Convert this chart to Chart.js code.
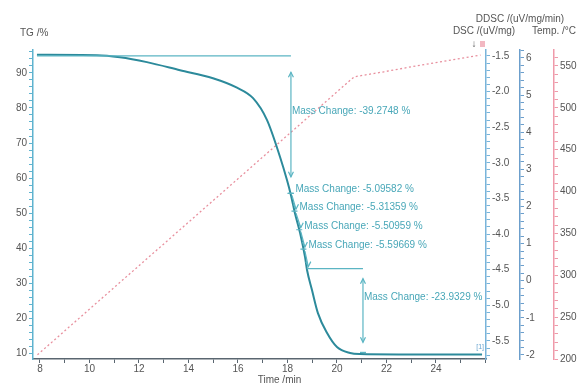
<!DOCTYPE html>
<html>
<head>
<meta charset="utf-8">
<script src="https://cdn.jsdelivr.net/npm/chart.js@4/dist/chart.umd.min.js"></script>
<style>
  html, body { margin: 0; padding: 0; background: #fff; }
  #wrap { width: 583px; height: 385px; }
</style>
</head>
<body>
<div id="wrap"><canvas id="tgChart" width="583" height="385"></canvas></div>
<script>
// TG curve: time (min) / mass (%)
const tgTime = [7.88, 10.3, 11.23, 12.32, 13.66, 14.99, 15.96, 16.61, 17.17, 17.7, 17.98, 18.14, 18.3, 18.51, 18.71, 18.79, 18.99, 19.23, 19.6, 20.0, 20.53, 20.93, 22.5, 25.86];
const tgMass = [95.2, 95.1, 94.5, 93.1, 90.8, 88.5, 85.8, 82.8, 76.6, 66.0, 59.4, 55.1, 50.0, 44.3, 37.4, 33.7, 28.0, 21.4, 15.7, 11.7, 10.0, 9.7, 9.6, 9.6];

// temperature programme (dotted)
const tempTime = [7.9, 20.5, 20.7, 21.9, 23.2, 24.6, 25.8];
const tempVal  = [205, 532, 537, 543, 550, 557, 563];

// mass change evaluation
const refLevel = 94.9;
const massChanges = [-39.2748, -5.09582, -5.31359, -5.50959, -5.59669, -23.9329];
const arrowTimes = [18.14, 21.05];   // big arrows: first and last step

const tgCol = '#2c8a9b';
const annCol = '#5bb5c3';
const txtCol = '#48a7b8';
const tickCol = '#555';
const font = { family: '"Liberation Sans", Arial, sans-serif', size: 10 };

const near = (v, m) => Math.abs(v / m - Math.round(v / m)) < 1e-6;

function timeAt(level) {
  for (let i = 1; i < tgMass.length; i++) {
    if (tgMass[i] <= level) {
      const f = (tgMass[i - 1] - level) / (tgMass[i - 1] - tgMass[i]);
      return tgTime[i - 1] + f * (tgTime[i] - tgTime[i - 1]);
    }
  }
  return tgTime[tgTime.length - 1];
}

function arrowHead(ctx, x, y, dir) {
  ctx.beginPath();
  ctx.moveTo(x - 2.5, y - dir * 5);
  ctx.lineTo(x, y);
  ctx.lineTo(x + 2.5, y - dir * 5);
  ctx.stroke();
}

const annot = {
  id: 'annot',
  afterDatasetsDraw(chart) {
    const { ctx, scales } = chart;
    const px = t => scales.x.getPixelForValue(t);
    const py = v => scales.y.getPixelForValue(v);
    const levels = [refLevel];
    massChanges.forEach(m => levels.push(levels[levels.length - 1] + m));
    ctx.save();
    ctx.strokeStyle = annCol;
    ctx.lineWidth = 1.2;
    ctx.fillStyle = txtCol;
    ctx.font = '10px "Liberation Sans", Arial, sans-serif';
    ctx.textBaseline = 'middle';

    function bigStep(t0, t1, top, bottom, frac, text) {
      const yTop = py(top), yBot = py(bottom), x1 = px(t1);
      ctx.beginPath();
      ctx.moveTo(px(t0), yTop); ctx.lineTo(x1, yTop);
      ctx.stroke();
      const ins = (yBot - yTop) * 0.12;
      ctx.beginPath();
      ctx.moveTo(x1, yTop + ins); ctx.lineTo(x1, yBot - ins);
      ctx.stroke();
      arrowHead(ctx, x1, yTop + ins, -1);
      arrowHead(ctx, x1, yBot - ins, 1);
      ctx.beginPath();
      ctx.moveTo(x1 - 3, yBot); ctx.lineTo(x1 + 3, yBot);
      ctx.stroke();
      ctx.fillText(text, x1 + 1, yTop + (yBot - yTop) * frac);
    }

    // first step from reference line
    bigStep(tgTime[0], arrowTimes[0], levels[0], levels[1], 0.4, 'Mass Change: ' + massChanges[0] + ' %');

    // small steps along the steep part
    for (let i = 1; i <= 4; i++) {
      const tA = timeAt(levels[i]), tB = timeAt(levels[i + 1]);
      const xA = px(tA), yA = py(levels[i]), xB = px(tB), yB = py(levels[i + 1]);
      ctx.beginPath();
      ctx.moveTo(xA - 3, yA); ctx.lineTo(xA + 3, yA);
      ctx.moveTo(xA + 1.5, yA + 2); ctx.lineTo(xB + 1.5, yB - 2);
      ctx.stroke();
      arrowHead(ctx, xB + 1.5, yB - 2, 1);
      ctx.fillText('Mass Change: ' + massChanges[i] + ' %', xA + 5, yA - 4);
    }

    // last step
    bigStep(timeAt(levels[5]), arrowTimes[1], levels[5], levels[6], 0.34, 'Mass Change: ' + massChanges[5] + ' %');

    // curve tag
    ctx.font = '7px "Liberation Sans", Arial, sans-serif';
    ctx.fillStyle = '#6aa6d0';
    ctx.textAlign = 'right';
    ctx.fillText('[1]', chart.chartArea.right - 2, py(levels[6]) - 5);
    ctx.restore();
  },
  afterDraw(chart) {
    const { ctx, scales, chartArea } = chart;
    ctx.save();
    ctx.fillStyle = tickCol;
    ctx.font = '10px "Liberation Sans", Arial, sans-serif';
    ctx.textBaseline = 'middle';
    ctx.textAlign = 'left';
    ctx.fillText('TG /%', 20, 33);
    ctx.textAlign = 'center';
    ctx.fillText('DDSC /(uV/mg/min)', scales.ddsc.left, 19);
    ctx.fillText('DSC /(uV/mg)', scales.dsc.left - 2, 31);
    ctx.fillText('Temp. /\u00B0C', scales.temp.left, 31);
    ctx.fillText('Time /min', (chartArea.left + chartArea.right) / 2 + 20, 380);
    ctx.fillText('\u2193', scales.dsc.left - 12, 44);
    ctx.fillStyle = '#f2b8c2';
    ctx.fillRect(scales.dsc.left - 6, 41, 5, 6);
    ctx.restore();
  }
};

function axis(pos, min, max, step, majorEvery, fmt, col, w) {
  return {
    type: 'linear', position: pos, min: min, max: max,
    ticks: {
      stepSize: step, autoSkip: false, includeBounds: false, color: tickCol, font: font, padding: 2,
      callback: v => near(v, majorEvery) ? fmt(v) : ''
    },
    grid: { drawOnChartArea: false, drawTicks: true, tickLength: 4, color: col },
    border: { display: true, color: col, width: 1.5 },
    afterFit: s => { s.width = w; }
  };
}

const ctx = document.getElementById('tgChart').getContext('2d');
new Chart(ctx, {
  type: 'line',
  data: {
    datasets: [
      {
        label: 'TG',
        data: tgTime.map((t, i) => ({ x: t, y: tgMass[i] })),
        yAxisID: 'y',
        borderColor: tgCol,
        borderWidth: 2,
        pointRadius: 0,
        cubicInterpolationMode: 'monotone'
      },
      {
        label: 'Temp',
        data: tempTime.map((t, i) => ({ x: t, y: tempVal[i] })),
        yAxisID: 'temp',
        borderColor: '#e8909e',
        borderWidth: 1.3,
        borderDash: [2, 2.5],
        pointRadius: 0
      }
    ]
  },
  options: {
    responsive: false,
    animation: false,
    layout: { padding: { top: 50, left: 0, right: 0, bottom: 0 } },
    plugins: { legend: { display: false }, tooltip: { enabled: false } },
    scales: {
      x: {
        type: 'linear', min: 7.72, max: 26.02,
        ticks: {
          stepSize: 1, autoSkip: false, includeBounds: false, color: tickCol, font: font, padding: 0, maxRotation: 0,
          callback: v => (near(v, 2) && v <= 24) ? v : ''
        },
        grid: { drawOnChartArea: false, tickLength: 4, color: '#5a6670' },
        border: { color: '#5a6670', width: 1.5 },
        afterFit: s => { s.height = 26; }
      },
      y: axis('left', 8.29, 96.57, 2, 10, v => v, '#5fb3cf', 33),
      dsc: axis('right', -5.753, -1.416, 0.1, 0.5, v => v.toFixed(1), '#79b4da', 34),
      ddsc: axis('right', -2.108, 6.215, 0.2, 1, v => Math.round(v), '#6c9fcc', 34),
      temp: axis('right', 200, 569, 10, 50, v => v, '#ef9aaa', 29)
    }
  },
  plugins: [annot]
});
</script>
</body>
</html>
